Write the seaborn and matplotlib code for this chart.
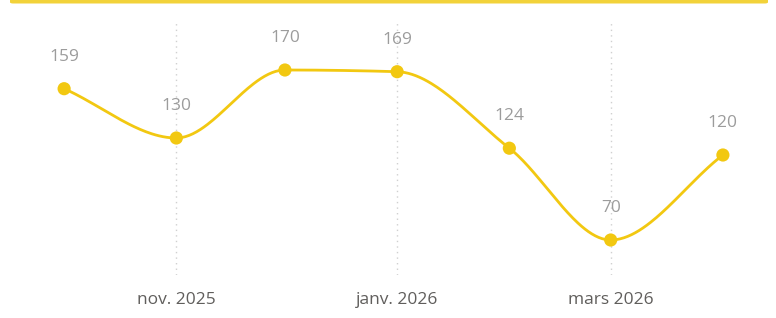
import numpy as np
import pandas as pd
import matplotlib
matplotlib.use("Agg")
import matplotlib.pyplot as plt
import matplotlib.dates as mdates
from matplotlib.patches import FancyBboxPatch
import seaborn as sns

months = ["2025-10-01", "2025-11-01", "2025-12-01", "2026-01-01",
          "2026-02-01", "2026-03-01", "2026-04-01"]
values = [159, 130, 170, 169, 124, 70, 120]
tick_dates = ["2025-11-01", "2026-01-01", "2026-03-01"]
tick_labels = ["nov. 2025", "janv. 2026", "mars 2026"]

YELLOW = "#F2C811"

df = pd.DataFrame({"date": pd.to_datetime(months), "value": values})

sns.set_style("white")
plt.rcParams["font.family"] = ["Open Sans", "DejaVu Sans"]

W, H = 776, 318
fig = plt.figure(figsize=(W / 100, H / 100), dpi=100)
top_px, bot_px = 22, 275
ax = fig.add_axes([0, 1 - bot_px / H, 1, (bot_px - top_px) / H])

# smooth monotone cubic path for the line (rendering only)
x = mdates.date2num(df["date"])
y = np.array(values, dtype=float)
h = np.diff(x)
d = np.diff(y) / h
m = np.zeros_like(y)
m[0], m[-1] = d[0], d[-1]
for i in range(1, len(y) - 1):
    if d[i - 1] * d[i] <= 0:
        m[i] = 0
    else:
        w1 = 2 * h[i] + h[i - 1]
        w2 = h[i] + 2 * h[i - 1]
        m[i] = (w1 + w2) / (w1 / d[i - 1] + w2 / d[i])
xs, ys = [], []
for i in range(len(x) - 1):
    t = np.linspace(0, 1, 60)
    h00 = 2 * t**3 - 3 * t**2 + 1
    h10 = t**3 - 2 * t**2 + t
    h01 = -2 * t**3 + 3 * t**2
    h11 = t**3 - t**2
    xs.append(x[i] + t * h[i])
    ys.append(h00 * y[i] + h10 * h[i] * m[i] + h01 * y[i + 1] + h11 * h[i] * m[i + 1])
xs = np.concatenate(xs)
ys = np.concatenate(ys)
smooth = pd.DataFrame({"date": mdates.num2date(xs), "value": ys})

sns.lineplot(data=smooth, x="date", y="value", ax=ax, color=YELLOW, lw=2.0,
             estimator=None, sort=False)
sns.scatterplot(data=df, x="date", y="value", ax=ax, color=YELLOW, s=90,
                edgecolor="none", zorder=5)

for dt, v in zip(df["date"], values):
    ax.annotate(str(v), (dt, v), xytext=(0, 23), textcoords="offset points",
                ha="center", va="center", fontsize=12.5, color="#9C9C9C")

px_per_day = 112 / 31
x0 = pd.Timestamp("2025-10-01") - pd.Timedelta(days=64 / px_per_day)
x1 = pd.Timestamp("2026-04-01") + pd.Timedelta(days=(W - 723) / px_per_day)
ax.set_xlim(x0, x1)
ax.set_ylim((359 - bot_px) / 1.7, (359 - top_px) / 1.7)

ax.set_xticks(pd.to_datetime(tick_dates))
ax.set_xticklabels(tick_labels, fontsize=12.5, color="#605E5C")
ax.tick_params(axis="x", length=0, pad=12)
ax.set_yticks([])
ax.grid(axis="x", color="#D0D0D0", linestyle=(0, (1, 3)), lw=1)
ax.set_axisbelow(True)
ax.set_xlabel("")
ax.set_ylabel("")
for s in ax.spines.values():
    s.set_visible(False)
ax.patch.set_alpha(0)

band = FancyBboxPatch((10 / W, 1 - 3.5 / H), 758 / W, 5 / H,
                      boxstyle="round,pad=0,rounding_size=0.004",
                      transform=fig.transFigure, facecolor="#F2D23A",
                      edgecolor="none")
fig.patches.append(band)

fig.savefig("out.png", dpi=100)
